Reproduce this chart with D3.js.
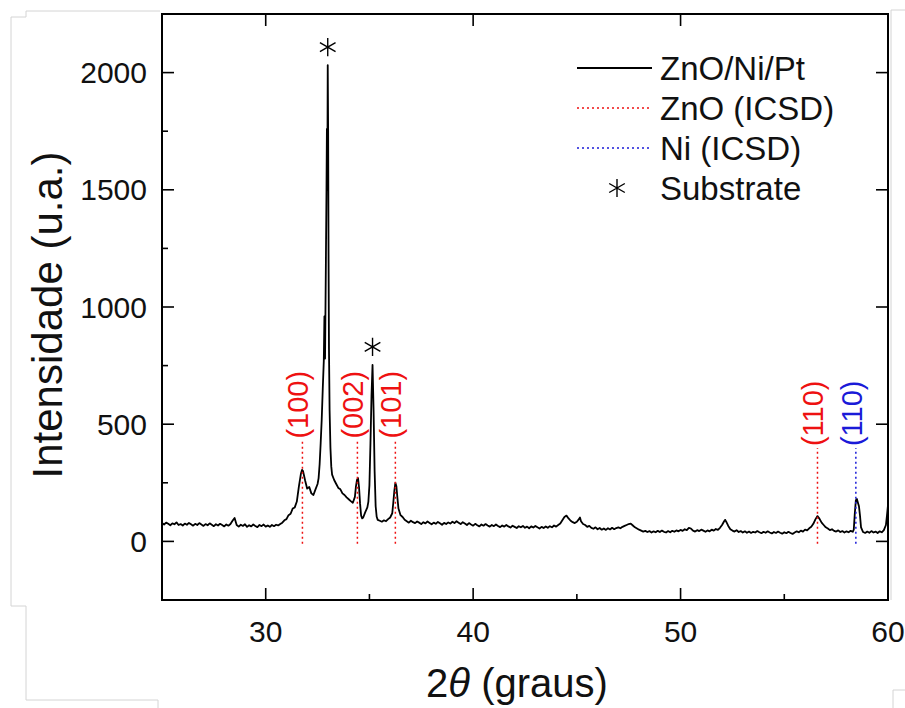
<!DOCTYPE html>
<html>
<head>
<meta charset="utf-8">
<script src="https://cdn.jsdelivr.net/npm/d3@7"></script>
<style>
  body { margin: 0; background: #fff; }
  svg { display: block; }
  text { font-family: "Liberation Sans", Arial, Helvetica, sans-serif; }
</style>
</head>
<body>
<svg id="chart" width="905" height="708"></svg>
<script>
// ---- data -------------------------------------------------------------
// Measured diffractogram: [2θ (degrees), intensity (a.u.)]
const xrdScan = [
  [25.0,78],[25.1,72],[25.2,80],[25.3,75],[25.4,69],[25.5,77],[25.6,73],[25.7,81],[25.8,70],[25.9,74],
  [26.0,68],[26.1,76],[26.2,71],[26.3,79],[26.4,73],[26.5,67],[26.6,75],[26.7,70],[26.8,78],[26.9,72],
  [27.0,66],[27.1,74],[27.2,69],[27.3,77],[27.4,71],[27.5,65],[27.6,73],[27.7,68],[27.8,75],[27.9,70],
  [28.0,64],[28.1,72],[28.2,67],[28.3,74],[28.4,88],[28.5,100],[28.6,70],[28.7,63],[28.8,71],[28.9,66],
  [29.0,73],[29.1,62],[29.2,69],[29.3,64],[29.4,72],[29.5,66],[29.6,61],[29.7,70],[29.8,65],[29.9,72],
  [30.0,63],[30.1,68],[30.2,62],[30.3,70],[30.4,65],[30.5,71],[30.6,68],[30.7,74],[30.8,80],[30.9,90],
  [31.0,95],[31.1,112],[31.2,118],[31.3,140],[31.4,145],[31.5,170],[31.6,235],[31.7,290],[31.75,305],[31.8,300],
  [31.9,260],[32.0,225],[32.1,232],[32.2,205],[32.3,198],[32.4,222],[32.5,245],[32.55,270],[32.6,330],[32.65,420],
  [32.7,520],[32.75,650],[32.8,770],[32.83,960],[32.86,780],[32.9,1180],[32.93,1500],[32.95,1760],[32.97,1500],[32.99,2032],
  [33.01,1750],[33.03,1200],[33.05,820],[33.08,560],[33.12,400],[33.16,320],[33.2,285],[33.3,262],[33.4,245],[33.5,228],
  [33.6,222],[33.7,205],[33.8,198],[33.9,188],[34.0,180],[34.1,172],[34.2,165],[34.3,190],[34.35,235],[34.4,262],
  [34.45,270],[34.5,230],[34.55,160],[34.6,110],[34.65,98],[34.7,102],[34.8,125],[34.9,145],[34.95,170],[35.0,240],
  [35.05,420],[35.1,620],[35.15,753],[35.2,560],[35.25,300],[35.3,150],[35.35,105],[35.4,92],[35.5,88],[35.6,84],
  [35.7,90],[35.8,86],[35.9,95],[36.0,102],[36.1,120],[36.15,165],[36.2,215],[36.25,250],[36.3,235],[36.35,185],
  [36.4,140],[36.5,112],[36.6,104],[36.7,92],[36.8,86],[36.9,80],[37.0,88],[37.1,82],[37.2,78],[37.3,85],
  [37.4,80],[37.5,74],[37.6,82],[37.7,77],[37.8,85],[37.9,79],[38.0,73],[38.1,80],[38.2,75],[38.3,83],
  [38.4,77],[38.5,71],[38.6,79],[38.7,74],[38.8,81],[38.9,76],[39.0,84],[39.1,78],[39.2,86],[39.3,80],
  [39.4,74],[39.5,82],[39.6,76],[39.7,70],[39.8,78],[39.9,72],[40.0,67],[40.1,75],[40.2,69],[40.3,64],
  [40.4,72],[40.5,67],[40.6,74],[40.7,68],[40.8,63],[40.9,70],[41.0,65],[41.1,72],[41.2,66],[41.3,61],
  [41.4,68],[41.5,63],[41.6,70],[41.7,64],[41.8,59],[41.9,67],[42.0,62],[42.1,57],[42.2,65],[42.3,60],
  [42.4,66],[42.5,58],[42.6,63],[42.7,56],[42.8,64],[42.9,59],[43.0,66],[43.1,60],[43.2,55],[43.3,62],
  [43.4,57],[43.5,64],[43.6,58],[43.7,65],[43.8,60],[43.9,68],[44.0,63],[44.1,70],[44.2,76],[44.3,90],
  [44.4,104],[44.5,110],[44.6,98],[44.7,88],[44.8,82],[44.9,78],[45.0,84],[45.1,95],[45.15,102],[45.2,86],
  [45.3,74],[45.4,70],[45.5,62],[45.6,66],[45.7,58],[45.8,54],[45.9,60],[46.0,52],[46.1,57],[46.2,50],
  [46.3,55],[46.4,49],[46.5,56],[46.6,51],[46.7,58],[46.8,52],[46.9,57],[47.0,60],[47.1,56],[47.2,62],
  [47.3,66],[47.4,70],[47.5,74],[47.6,76],[47.7,68],[47.8,60],[47.9,55],[48.0,50],[48.1,46],[48.2,42],
  [48.3,45],[48.4,40],[48.5,44],[48.6,38],[48.7,43],[48.8,39],[48.9,45],[49.0,40],[49.1,46],[49.2,41],
  [49.3,38],[49.4,44],[49.5,39],[49.6,45],[49.7,41],[49.8,47],[49.9,43],[50.0,49],[50.1,45],[50.2,52],
  [50.3,48],[50.4,58],[50.5,55],[50.6,46],[50.7,42],[50.8,48],[50.9,44],[51.0,50],[51.1,46],[51.2,41],
  [51.3,47],[51.4,43],[51.5,50],[51.6,46],[51.7,53],[51.8,49],[51.9,58],[52.0,70],[52.1,86],[52.15,92],
  [52.2,84],[52.3,66],[52.4,52],[52.5,46],[52.6,42],[52.7,48],[52.8,40],[52.9,44],[53.0,38],[53.1,43],
  [53.2,37],[53.3,42],[53.4,36],[53.5,41],[53.6,38],[53.7,44],[53.8,39],[53.9,35],[54.0,41],[54.1,37],
  [54.2,43],[54.3,38],[54.4,34],[54.5,40],[54.6,36],[54.7,42],[54.8,37],[54.9,33],[55.0,39],[55.1,35],
  [55.2,41],[55.3,36],[55.4,32],[55.5,38],[55.6,43],[55.7,39],[55.8,46],[55.9,42],[56.0,50],[56.1,47],
  [56.2,56],[56.3,62],[56.4,75],[56.5,94],[56.6,108],[56.7,96],[56.8,80],[56.9,70],[57.0,60],[57.1,55],
  [57.2,48],[57.3,52],[57.4,45],[57.5,42],[57.6,47],[57.7,40],[57.8,44],[57.9,38],[58.0,43],[58.1,39],
  [58.2,45],[58.3,41],[58.35,50],[58.4,120],[58.45,175],[58.5,181],[58.55,165],[58.6,150],[58.65,110],[58.7,60],
  [58.8,40],[58.9,36],[59.0,42],[59.1,37],[59.2,44],[59.3,38],[59.4,42],[59.5,36],[59.6,43],[59.7,39],
  [59.8,48],[59.9,70],[59.95,110],[60.0,155]
];

// Reference reflections (ICSD)
const reflTheta = [31.77, 34.42, 36.25, 56.60, 58.45];
const reflHkl   = ["(100)", "(002)", "(101)", "(110)", "(110)"];
const reflPhase = ["ZnO", "ZnO", "ZnO", "ZnO", "Ni"];
const reflTop   = [430, 430, 430, 398, 398];

// Substrate peaks
const substrateTheta = [32.99, 35.15];
const substrateCounts = [2032, 753];

// Axes
const xMajor = [30, 40, 50, 60];
const xMinor = [35, 45, 55];
const yMajor = [0, 500, 1000, 1500, 2000];
const yMinor = [250, 750, 1250, 1750];

// Legend
const legendLabels = ["ZnO/Ni/Pt", "ZnO (ICSD)", "Ni (ICSD)", "Substrate"];

// ---- drawing ----------------------------------------------------------
const phaseColor = { ZnO: "#ee1111", Ni: "#1a1ad8" };
const svg = d3.select("#chart");
const frame = { left: 162, right: 888, top: 14, bottom: 600 };

const x = d3.scaleLinear().domain([25, 60]).range([frame.left, frame.right]);
const y = d3.scaleLinear().domain([-250, 2250]).range([frame.bottom, frame.top]);

// faint page edges around the figure
const edge = svg.append("g").attr("fill", "none").attr("stroke", "#d4d4d4").attr("stroke-width", 1);
edge.append("path").attr("d", "M26,11H160M11,17H26V11M11,17V606H26V700H158V708");
edge.append("path").attr("d", "M891,10H905M891,10V600M893,690V708M893,690H905");

// data curve
const line = d3.line().x(d => x(d[0])).y(d => y(d[1]));
svg.append("path")
  .datum(xrdScan)
  .attr("fill", "none")
  .attr("stroke", "#000")
  .attr("stroke-width", 1.8)
  .attr("stroke-linejoin", "round")
  .attr("d", line);

// reflection markers
const refl = svg.append("g");
reflTheta.forEach((t, i) => {
  const c = phaseColor[reflPhase[i]];
  refl.append("line")
    .attr("x1", x(t)).attr("x2", x(t))
    .attr("y1", y(-10)).attr("y2", y(reflTop[i]))
    .attr("stroke", c).attr("stroke-width", 1.5)
    .attr("stroke-dasharray", "2,3");
  refl.append("text")
    .attr("transform", `translate(${x(t) + 6},${y(reflTop[i]) - 2}) rotate(-90)`)
    .attr("fill", c)
    .attr("font-size", 29)
    .attr("text-anchor", "start")
    .text(reflHkl[i]);
});

// substrate markers
const star = d3.symbol().type(d3.symbolAsterisk).size(230);
substrateTheta.forEach((t, i) => {
  svg.append("path")
    .attr("d", star())
    .attr("transform", `translate(${x(t)},${y(substrateCounts[i]) - 18})`)
    .attr("fill", "none").attr("stroke", "#000").attr("stroke-width", 1.4);
});

// tick marks, all pointing into the plot
const ticks = svg.append("g").attr("stroke", "#000").attr("stroke-width", 1.6);
function xTick(v, len, atTop) {
  const y0 = atTop ? frame.top : frame.bottom;
  ticks.append("line").attr("x1", x(v)).attr("x2", x(v))
    .attr("y1", y0).attr("y2", atTop ? y0 + len : y0 - len);
}
function yTick(v, len, atRight) {
  const x0 = atRight ? frame.right : frame.left;
  ticks.append("line").attr("y1", y(v)).attr("y2", y(v))
    .attr("x1", x0).attr("x2", atRight ? x0 - len : x0 + len);
}
xMajor.forEach(v => { xTick(v, 12, false); xTick(v, 12, true); });
xMinor.forEach(v => xTick(v, 6, false));
yMajor.forEach(v => { yTick(v, 12, false); yTick(v, 12, true); });
yMinor.forEach(v => yTick(v, 6, false));

// tick labels
const fmt = d3.format("d");
svg.append("g").attr("font-size", 30).attr("fill", "#111").attr("text-anchor", "middle")
  .selectAll("text").data(xMajor).join("text")
  .attr("x", d => x(d)).attr("y", frame.bottom + 42).text(fmt);
svg.append("g").attr("font-size", 30).attr("fill", "#111").attr("text-anchor", "end")
  .selectAll("text").data(yMajor).join("text")
  .attr("x", frame.left - 15).attr("y", d => y(d) + 10.5).text(fmt);

// plot frame
svg.append("rect")
  .attr("x", frame.left).attr("y", frame.top)
  .attr("width", frame.right - frame.left).attr("height", frame.bottom - frame.top)
  .attr("fill", "none").attr("stroke", "#000").attr("stroke-width", 2);

// axis titles
const xt = svg.append("text")
  .attr("x", 517).attr("y", 697)
  .attr("text-anchor", "middle").attr("font-size", 40).attr("fill", "#111");
xt.append("tspan").text("2");
xt.append("tspan").attr("font-style", "italic").text("θ");
xt.append("tspan").text(" (graus)");

svg.append("text")
  .attr("transform", "translate(62,315) rotate(-90)")
  .attr("text-anchor", "middle").attr("font-size", 42).attr("fill", "#111")
  .text("Intensidade (u.a.)");

// legend
const lg = svg.append("g").attr("font-size", 33);
legendLabels.forEach((label, i) => {
  const cy = 68 + i * 40;
  if (i === 0) {
    lg.append("line").attr("x1", 577).attr("x2", 652).attr("y1", cy).attr("y2", cy)
      .attr("stroke", "#000").attr("stroke-width", 2);
  } else if (i === 1 || i === 2) {
    lg.append("line").attr("x1", 577).attr("x2", 652).attr("y1", cy).attr("y2", cy)
      .attr("stroke", i === 1 ? phaseColor.ZnO : phaseColor.Ni).attr("stroke-width", 1.4)
      .attr("stroke-dasharray", "2,3");
  } else {
    lg.append("path").attr("d", star())
      .attr("transform", `translate(617,${cy})`)
      .attr("fill", "none").attr("stroke", "#000").attr("stroke-width", 1.4);
  }
  lg.append("text").attr("x", 660).attr("y", cy + 12).attr("fill", "#111").text(label);
});
</script>
</body>
</html>
